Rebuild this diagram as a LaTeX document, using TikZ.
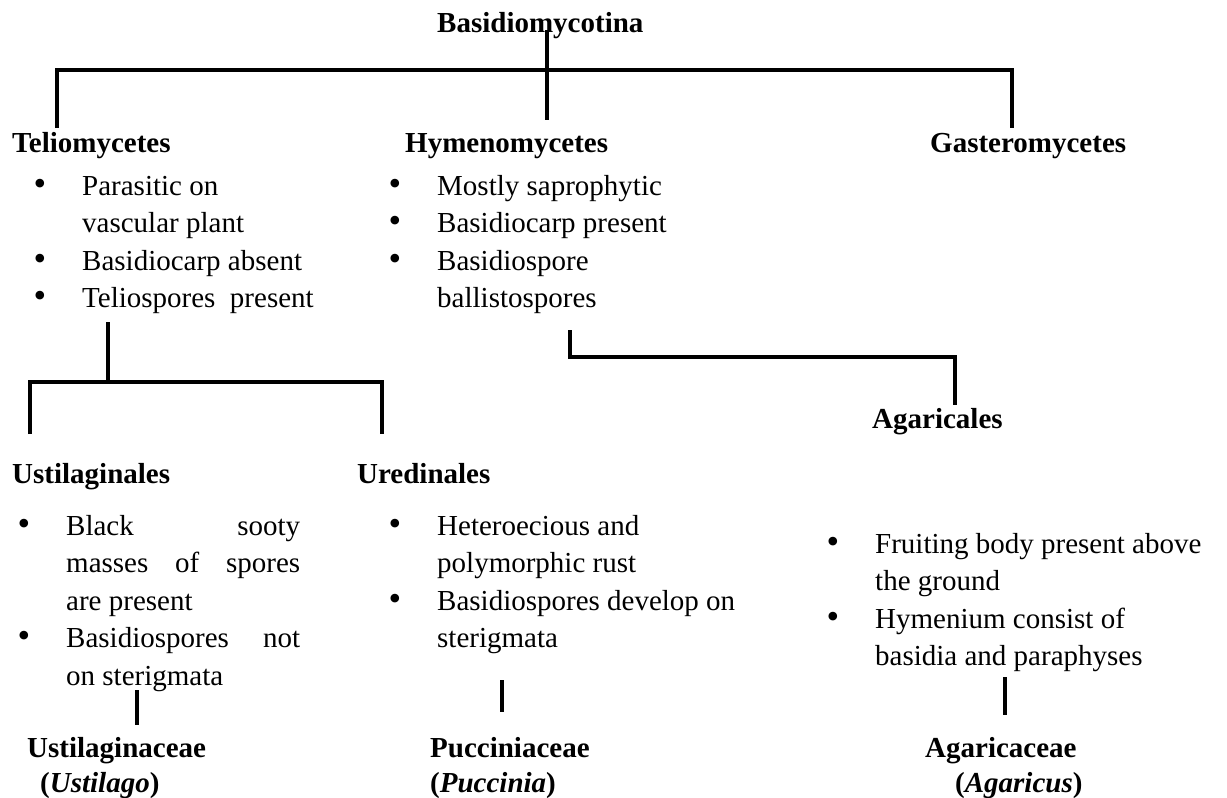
\documentclass[tikz,border=0pt]{standalone}
\usepackage{fontspec}
\setmainfont{Liberation Serif}
\newcommand{\itemdot}{\llap{{\fontsize{36}{0}\selectfont\textbullet}\hspace{36pt}}}

\begin{document}
\begin{tikzpicture}[x=1pt, y=-1pt,
    head/.style={anchor=base west, inner sep=0pt, align=left, font=\fontsize{29}{35}\selectfont\bfseries},
    list/.style={anchor=base west, inner sep=0pt, align=left, font=\fontsize{29}{37.5}\selectfont},
    branch/.style={line width=3.5pt}]
    \useasboundingbox (0,0) rectangle (1227,798);

    % headings
    \node[head] (root) at (437,32) {Basidiomycotina};
    \node[head] (telio) at (12,152) {Teliomycetes};
    \node[head] (hymeno) at (405,152) {Hymenomycetes};
    \node[head] (gastero) at (930,152) {Gasteromycetes};
    \node[head] (ustilago) at (12,483) {Ustilaginales};
    \node[head] (uredo) at (357,483) {Uredinales};
    \node[head] (agaric) at (872,428) {Agaricales};

    % features (base = last line)
    \node[list] (telioList) at (82,307.5) {\itemdot Parasitic on\\vascular plant\\\itemdot Basidiocarp absent\\\itemdot Teliospores\ \ present};
    \node[list] (hymenoList) at (437,307.5) {\itemdot Mostly saprophytic\\\itemdot Basidiocarp present\\\itemdot Basidiospore\\ballistospores};
    \node[list] (ustilagoList) at (66,685) {\itemdot\makebox[234pt][s]{Black sooty}\\\makebox[234pt][s]{masses of spores}\\are present\\\itemdot\makebox[234pt][s]{Basidiospores not}\\on sterigmata};
    \node[list] (uredoList) at (437,647.5) {\itemdot Heteroecious and\\polymorphic rust\\\itemdot Basidiospores develop on\\sterigmata};
    \node[list] (agaricList) at (875,665.5) {\itemdot Fruiting body present above\\the ground\\\itemdot Hymenium consist of\\basidia and paraphyses};

    % families
    \node[head] (ustilagoFam) at (27,792) {Ustilaginaceae\\\hspace*{13pt}(\textit{Ustilago})};
    \node[head] (uredoFam) at (430,792) {Pucciniaceae\\(\textit{Puccinia})};
    \node[head] (agaricFam) at (925,792) {Agaricaceae\\\hspace*{30pt}(\textit{Agaricus})};

    \coordinate (rootTop) at (547,30);
    \coordinate (rootBar) at (547,70);
    \coordinate (hymenoTop) at (547,120);
    \coordinate (telioTop) at (57,128);
    \coordinate (gasteroTop) at (1012,128);
    \coordinate (telioFoot) at (108,322);
    \coordinate (telioBar) at (108,382);
    \coordinate (ustilagoTop) at (30,434);
    \coordinate (uredoTop) at (382,434);
    \coordinate (hymenoFoot) at (570,330);
    \coordinate (hymenoBar) at (570,357);
    \coordinate (agaricTop) at (955,405);
    \coordinate (ustilagoFoot) at (137,690);
    \coordinate (ustilagoFamTop) at (137,725);
    \coordinate (uredoFoot) at (502,680);
    \coordinate (uredoFamTop) at (502,712);
    \coordinate (agaricFoot) at (1005,677);
    \coordinate (agaricFamTop) at (1005,715);

    \draw[branch] (rootTop) -- (hymenoTop);
    \draw[branch] (telioTop) -- (telioTop |- rootBar) -- (gasteroTop |- rootBar) -- (gasteroTop);
    \draw[branch] (telioFoot) -- (telioBar);
    \draw[branch] (ustilagoTop) -- (ustilagoTop |- telioBar) -- (uredoTop |- telioBar) -- (uredoTop);
    \draw[branch] (hymenoFoot) -- (hymenoBar) -- (agaricTop |- hymenoBar) -- (agaricTop);
    \draw[branch] (ustilagoFoot) -- (ustilagoFamTop);
    \draw[branch] (uredoFoot) -- (uredoFamTop);
    \draw[branch] (agaricFoot) -- (agaricFamTop);
\end{tikzpicture}
\end{document}
